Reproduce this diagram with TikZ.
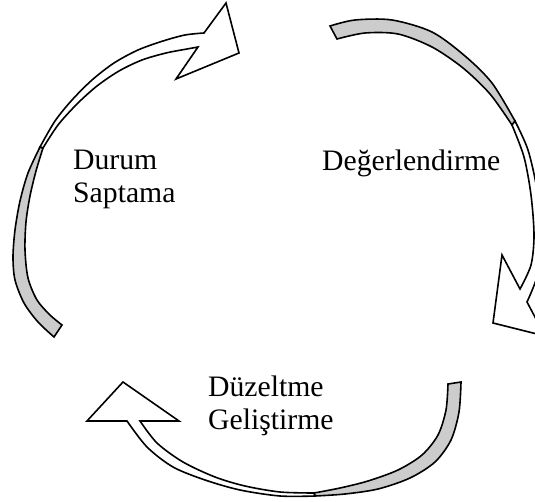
\documentclass[tikz,border=0pt]{standalone}
\usepackage{fontspec}
\setmainfont{Liberation Serif}
\usepackage{tikz}

\tikzset{
  ribbon/.style={draw, line width=1.6pt, line join=miter},
  backface/.style={ribbon, fill=black!20},
  frontface/.style={ribbon, fill=white},
  stagetext/.style={font=\fontsize{29.7}{33}\selectfont, align=left, inner sep=0pt, anchor=base west}
}

\begin{document}
\begin{tikzpicture}[x=1pt, y=-1pt]
  \useasboundingbox (0,0) rectangle (535,502);
  \clip (0,0) rectangle (535,502);

  % Durum Saptama
  \filldraw[backface] plot[smooth] coordinates {(54,337) (38,322) (24,303) (15,280) (13,257) (15,230) (20,201) (28,173) (40,147)}
    -- plot[smooth] coordinates {(43,148) (36,171) (30,196) (26,222) (25,250) (28,278) (37,300) (50,315) (62,325)} -- cycle;
  \filldraw[frontface] plot[smooth] coordinates {(40,147) (55,121) (72,100) (92,80) (114,63) (138,50) (163,41) (185,35) (204,33)}
    -- (226,3) -- (239,53) -- (176,79) -- (198,47)
    -- plot[smooth] coordinates {(198,47) (187,49) (166,53) (142,60) (119,71) (97,86) (77,104) (58,125) (43,148)} -- cycle;

  % Degerlendirme
  \filldraw[backface] plot[smooth] coordinates {(330,26) (355,20) (392,20) (432,32) (465,56) (492,83) (515,121)}
    -- plot[smooth] coordinates {(512,125) (490,94) (463,68) (432,47) (398,34) (365,33) (337,39)} -- cycle;
  \filldraw[frontface] plot[smooth] coordinates {(515,121) (528,150) (537,190) (540,230) (539,270) (527,302)}
    -- (545,336) -- (493,323) -- (502,255) -- (520,289)
    -- plot[smooth] coordinates {(520,289) (531,265) (534,235) (531,195) (524,157) (512,125)} -- cycle;

  % Duzeltme Gelistirme
  \filldraw[backface] plot[smooth] coordinates {(461,382) (459,412) (451,440) (435,462) (410,478) (378,489) (345,494) (315,496)}
    -- plot[smooth] coordinates {(314,493) (340,488) (368,481) (398,470) (422,455) (438,435) (446,410) (448,384)} -- cycle;
  \filldraw[frontface] plot[smooth] coordinates {(315,496) (280,496) (240,490) (205,480) (173,467) (147,447) (127,421)}
    -- (87,421) -- (123,382) -- (179,421) -- (140,421)
    -- plot[smooth] coordinates {(140,421) (157,443) (183,462) (215,477) (245,486) (280,492) (314,493)} -- cycle;

  \node[stagetext] (durum) at (73,203) {Durum\\Saptama};
  \node[stagetext] (deger) at (322,171) {Değerlendirme};
  \node[stagetext] (duzeltme) at (208,429) {Düzeltme\\Geliştirme};
\end{tikzpicture}
\end{document}
